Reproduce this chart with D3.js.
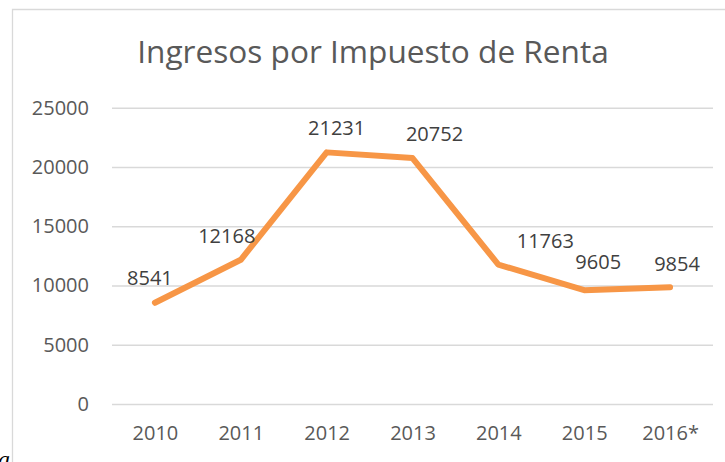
<!DOCTYPE html>
<html>
<head>
<meta charset="utf-8">
<script src="https://cdn.jsdelivr.net/npm/d3@7"></script>
<style>
  html, body { margin: 0; padding: 0; background: #fff; }
  svg { display: block; }
</style>
</head>
<body>
<svg id="chart" width="725" height="462"></svg>
<script>
const title = "Ingresos por Impuesto de Renta";
const categories = ["2010", "2011", "2012", "2013", "2014", "2015", "2016*"];
const values = [8541, 12168, 21231, 20752, 11763, 9605, 9854];
const yTicks = [0, 5000, 10000, 15000, 20000, 25000];
// label offsets relative to each point (manual placement in the original)
const labelDx = [-5, -14, 10, 22, 47, 14, 7];
const labelDy = [-25, -24, -24, -24, -24, -28, -23];

(function () {
const svg = d3.select("#chart");
const W = 725, H = 462;
const pLeft = 112, pRight = 713, pTop = 107.7, pBottom = 404;

// frame
svg.append("path")
  .attr("d", `M${W},9.5 H12.5 V${H}`)
  .attr("fill", "none").attr("stroke", "#d9d9d9").attr("stroke-width", 1.3);

const x = d3.scalePoint().domain(categories).range([pLeft, pRight]).padding(0.5);
const y = d3.scaleLinear().domain([0, 25000]).range([pBottom, pTop]);

// title
svg.append("text")
  .attr("x", 373).attr("y", 63)
  .attr("text-anchor", "middle")
  .attr("font-family", "Open Sans")
  .attr("font-size", 31.6)
  .attr("fill", "#595959")
  .text(title);

// gridlines + y labels
const yAxis = d3.axisLeft(y).tickValues(yTicks).tickSize(-(pRight - pLeft)).tickPadding(23).tickFormat(d => String(d));
const gy = svg.append("g").attr("transform", `translate(${pLeft},0)`).call(yAxis);
gy.select(".domain").remove();
gy.selectAll(".tick line").attr("stroke", "#d9d9d9").attr("stroke-width", 1.5);
gy.selectAll(".tick text")
  .attr("font-family", "Open Sans").attr("font-size", 20).attr("fill", "#595959");

// x labels
const xAxis = d3.axisBottom(x).tickSize(0).tickPadding(22);
const gx = svg.append("g").attr("transform", `translate(0,${pBottom})`).call(xAxis);
gx.select(".domain").remove();
gx.selectAll(".tick text")
  .attr("font-family", "Open Sans").attr("font-size", 20).attr("fill", "#595959");

// line
const line = d3.line().x((d, i) => x(categories[i])).y(d => y(d));
svg.append("path")
  .datum(values)
  .attr("d", line)
  .attr("fill", "none")
  .attr("stroke", "#F79646")
  .attr("stroke-width", 6)
  .attr("stroke-linecap", "round")
  .attr("stroke-linejoin", "round");

// data labels
svg.append("g").selectAll("text")
  .data(values)
  .join("text")
  .attr("x", (d, i) => x(categories[i]) + labelDx[i])
  .attr("y", (d, i) => y(d) + labelDy[i])
  .attr("dy", "0.35em")
  .attr("text-anchor", "middle")
  .attr("font-family", "Open Sans").attr("font-size", 20)
  .attr("fill", "#404040")
  .text(d => d);

// stray italic glyph at bottom-left (cut off by the edge, as in the original)
svg.append("text")
  .attr("x", -2).attr("y", 467)
  .attr("font-family", "Liberation Serif").attr("font-style", "italic")
  .attr("font-size", 24).attr("fill", "#000")
  .text("a");
})();
</script>
</body>
</html>
